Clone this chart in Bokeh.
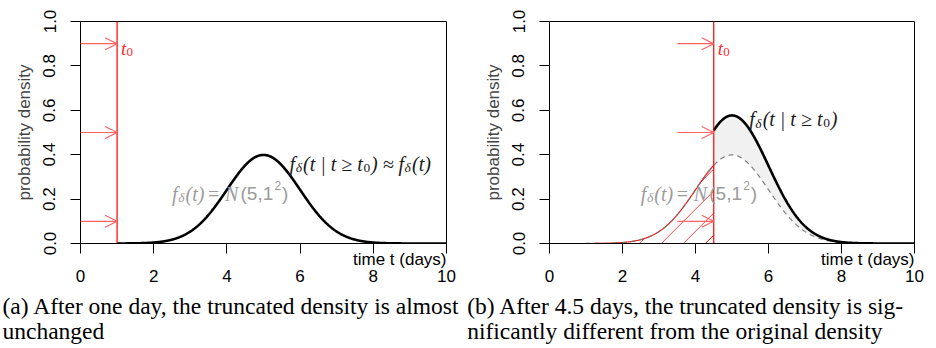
import math
import numpy as np
from bokeh.plotting import figure
from bokeh.layouts import row
from bokeh.models import Label, Arrow, OpenHead, Range1d, FixedTicker, LinearAxis, Title
from bokeh.embed import file_html
from bokeh.resources import INLINE

# ---------------- data ----------------
MU = 5.0            # mean of the incubation density (days)
SIGMA = 1.0         # sd of the density
T0_VALUES = [1.0, 4.5]          # truncation time of panel (a) and (b)
ARROW_LEVELS = [0.1, 0.5, 0.9]  # heights of the arrows
ARROW_LENGTH = 1.0              # arrows span one day up to t0
X_LIMITS = [0, 10]
Y_LIMITS = [0, 1]
X_TICKS = [0, 2, 4, 6, 8, 10]
Y_TICKS = [0.0, 0.2, 0.4, 0.6, 0.8, 1.0]
Y_TICK_LABELS = ["0.0", "0.2", "0.4", "0.6", "0.8", "1.0"]
X_LABEL = "time t (days)"
Y_LABEL = "probability density"
CAPTIONS = [
    ["(a) After one day, the truncated density is almost", "unchanged"],
    ["(b) After 4.5 days, the truncated density is sig-",
     "nificantly different from the original density"],
]

# ---------------- styles ----------------
RED = "#ff0000"
ARROW_RED = "#ff6262"
LABEL_RED = "#ff2a2a"
GRAY_TXT = "#9b9b9b"
DARK_TXT = "#1a1a1a"
SERIF = "Liberation Serif"
SANS = "Liberation Sans"
HATCH_SPACING_PX = 22.0
HATCH_PHASE_PX = 8.4
MAIN_H = 348
BORDER_TOP = 21
FRAME_H = 222
BORDER_BOTTOM = MAIN_H - BORDER_TOP - FRAME_H


def pdf(t):
    return np.exp(-0.5 * ((t - MU) / SIGMA) ** 2) / (SIGMA * math.sqrt(2 * math.pi))


def cdf(x):
    return 0.5 * (1 + math.erf((x - MU) / (SIGMA * math.sqrt(2))))


def add_pieces(p, x, y, pieces, color):
    for text, dx, dy, size, style, font in pieces:
        p.add_layout(Label(x=x, y=y, x_offset=dx, y_offset=dy, text=text,
                           text_font=font, text_font_size=f"{size}px",
                           text_font_style=style, text_color=color,
                           text_baseline="alphabetic", text_align="left"))


def make_panel(idx, t0, width, b_left, b_right, cap_offset):
    p = figure(width=width, height=MAIN_H, output_backend="svg", toolbar_location=None,
               x_range=Range1d(*X_LIMITS), y_range=Range1d(*Y_LIMITS),
               x_axis_location=None,
               min_border_left=b_left, min_border_right=b_right,
               min_border_top=BORDER_TOP, min_border_bottom=BORDER_BOTTOM)
    p.grid.visible = False
    p.outline_line_color = "black"
    p.outline_line_width = 1
    p.background_fill_color = "white"
    p.border_fill_color = "white"

    fw = width - b_left - b_right
    px_x = fw / (X_LIMITS[1] - X_LIMITS[0])
    px_y = FRAME_H / (Y_LIMITS[1] - Y_LIMITS[0])

    # x axis: ticks only (next to the frame)
    ax_ticks = LinearAxis(ticker=FixedTicker(ticks=X_TICKS),
                          major_tick_out=10, major_tick_in=0,
                          minor_tick_out=0, minor_tick_in=0, minor_tick_line_color=None,
                          major_label_text_font_size="0px", major_label_text_color=None,
                          major_label_standoff=0,
                          axis_line_color="black", major_tick_line_color="black")
    p.add_layout(ax_ticks, "below")
    # axis title, right aligned, between ticks and tick labels
    p.add_layout(Title(text=X_LABEL, align="right", vertical_align="top",
                       text_font=SANS, text_font_size="17px", text_font_style="normal",
                       text_color="black", standoff=-7, offset=0), "below")
    # x axis: tick labels only
    ax_lab = LinearAxis(ticker=FixedTicker(ticks=X_TICKS),
                        major_tick_out=0, major_tick_in=0, major_tick_line_color=None,
                        minor_tick_out=0, minor_tick_in=0, minor_tick_line_color=None,
                        axis_line_color=None, major_label_standoff=2,
                        major_label_text_font=SANS, major_label_text_font_size="17px",
                        major_label_text_color="black")
    p.add_layout(ax_lab, "below")
    # caption lines (sub-figure caption below the panel)
    for line, st in zip(CAPTIONS[idx], [16, -21.6]):
        p.add_layout(Title(text=line, align="left", vertical_align="top",
                           text_font=SERIF, text_font_size="23.5px", text_font_style="normal",
                           text_color="black", standoff=st, offset=cap_offset), "below")

    ya = p.yaxis[0]
    ya.major_tick_out = 10
    ya.major_tick_in = 0
    ya.minor_tick_line_color = None
    ya.axis_line_color = "black"
    ya.major_tick_line_color = "black"
    ya.major_label_text_font = SANS
    ya.major_label_text_font_size = "17px"
    ya.major_label_text_color = "black"
    ya.ticker = FixedTicker(ticks=Y_TICKS)
    ya.major_label_overrides = {v: s for v, s in zip(Y_TICKS, Y_TICK_LABELS)}
    ya.major_label_standoff = 15
    ya.major_label_orientation = "vertical"
    ya.axis_label = Y_LABEL
    ya.axis_label_text_font = SANS
    ya.axis_label_text_font_size = "17px"
    ya.axis_label_text_font_style = "normal"
    ya.axis_label_standoff = 7

    t_all = np.linspace(X_LIMITS[0], X_LIMITS[1], 1201)
    f_all = pdf(t_all)
    t_right = np.linspace(t0, X_LIMITS[1], 800)
    f_right = pdf(t_right)
    trunc = f_right / (1 - cdf(t0))
    t_left = np.linspace(X_LIMITS[0], t0, 600)
    f_left = pdf(t_left)

    # grey area between truncated and original density
    p.varea(x=t_right, y1=f_right, y2=trunc, fill_color="#f1f1f1", fill_alpha=1.0)

    # hatching (45 degrees in screen space) below the density, left of t0
    k = px_x / px_y
    xs_h, ys_h = [], []
    c = t0 - HATCH_PHASE_PX / px_x
    while c > X_LIMITS[0] - 0.5:
        xx = np.linspace(max(c, X_LIMITS[0]), t0, 900)
        yy = k * (xx - c)
        inside = (yy <= pdf(xx)) & (yy >= 0)
        i = 0
        n = len(xx)
        while i < n:
            if inside[i]:
                j = i
                while j + 1 < n and inside[j + 1]:
                    j += 1
                if j > i and (xx[j] - xx[i]) * px_x > 1.0:
                    xs_h.append(list(xx[i:j + 1]))
                    ys_h.append(list(yy[i:j + 1]))
                i = j + 1
            else:
                i += 1
        c -= HATCH_SPACING_PX / px_x
    if xs_h:
        p.multi_line(xs=xs_h, ys=ys_h, line_color=RED, line_width=1)

    # original density left of t0 in red
    p.line(t_left, f_left, line_color=RED, line_width=1.1)
    # original density dashed grey
    p.line(t_all, f_all, line_color="#707070", line_width=1.2, line_dash="5 4", line_alpha=0.9)
    # truncated density
    p.line(t_right, trunc, line_color="black", line_width=2.6)
    # truncation line
    p.segment(x0=[t0], y0=[Y_LIMITS[0]], x1=[t0], y1=[Y_LIMITS[1]], line_color=RED, line_width=1.2)

    for lvl in ARROW_LEVELS:
        p.add_layout(Arrow(end=OpenHead(size=12, line_color=ARROW_RED, line_width=1.2),
                           x_start=t0 - ARROW_LENGTH, y_start=lvl, x_end=t0, y_end=lvl,
                           line_color=ARROW_RED, line_width=1.2))

    # t0 label
    add_pieces(p, t0, 0.878, [("t", 4, 0, 19, "italic", SERIF),
                              ("0", 9.5, -3, 13, "normal", SERIF)], LABEL_RED)

    # grey label  f_delta(t) = N(5,1^2)
    add_pieces(p, 2.5, 0.225, [
        ("f", 0, 0, 20, "italic", SERIF),
        ("δ", 6.2, -4, 13.5, "italic", SERIF),
        ("(t)", 13.5, 0, 20, "italic", SERIF),
        ("=", 36, 0, 20, "normal", SERIF),
        ("N", 53, 0, 20, "italic", SERIF),
        ("(5,1", 68.5, 0, 19, "normal", SANS),
        ("2", 102.5, 8, 12, "normal", SANS),
        (")", 110, 0, 19, "normal", SANS),
    ], GRAY_TXT)

    # truncated density label
    if idx == 0:
        pieces = [
            ("f", 0, 0, 20, "italic", SERIF),
            ("δ", 6.2, -4, 13.5, "italic", SERIF),
            ("(t | t ≥ t", 13.5, 0, 20, "italic", SERIF),
            ("0", 74, -4, 13.5, "normal", SERIF),
            (") ≈ f", 81.5, 0, 20, "italic", SERIF),
            ("δ", 115, -4, 13.5, "italic", SERIF),
            ("(t)", 122.5, 0, 20, "italic", SERIF),
        ]
        add_pieces(p, 5.71, 0.36, pieces, DARK_TXT)
    else:
        pieces = [
            ("f", 0, 0, 20, "italic", SERIF),
            ("δ", 6.2, -4, 13.5, "italic", SERIF),
            ("(t | t ≥ t", 13.5, 0, 20, "italic", SERIF),
            ("0", 74, -4, 13.5, "normal", SERIF),
            (")", 81.5, 0, 20, "italic", SERIF),
        ]
        add_pieces(p, 5.47, 0.5586, pieces, DARK_TXT)
    return p


p1 = make_panel(0, T0_VALUES[0], 466, 80, 20, -78)
p2 = make_panel(1, T0_VALUES[1], 470, 83, 22, -82.3)

layout = row(p1, p2)

open("out.html", "w").write(file_html(layout, INLINE))
